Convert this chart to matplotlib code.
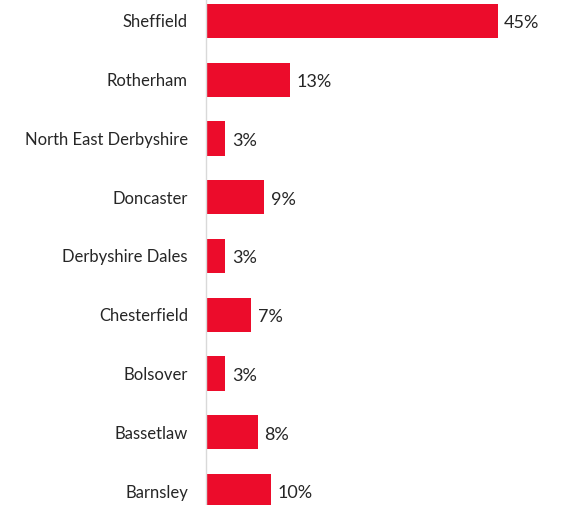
import matplotlib.pyplot as plt

areas = ['Sheffield', 'Rotherham', 'North East Derbyshire', 'Doncaster',
         'Derbyshire Dales', 'Chesterfield', 'Bolsover', 'Bassetlaw', 'Barnsley']
shares = [45, 13, 3, 9, 3, 7, 3, 8, 10]

plt.rcParams['font.family'] = ['Lato', 'DejaVu Sans']

fig = plt.figure(figsize=(5.62, 5.05), dpi=100)
ax = fig.add_axes([206 / 562, 0, 339 / 562, 1])

pos = list(range(len(areas)))
ax.barh(pos, shares, height=0.58, color='#EC0C2B')

for y, v in zip(pos, shares):
    ax.text(v + 1.0, y + 0.04, f'{v}%', va='center', ha='left', fontsize=13, color='#262626')

ax.set_xlim(0, 52.3)
ax.set_ylim(8.238, -0.357)
ax.set_yticks(pos)
ax.set_yticklabels(areas, fontsize=12, color='#262626')
ax.tick_params(axis='y', length=0, pad=13)
ax.set_xticks([])

for s in ['top', 'right', 'bottom']:
    ax.spines[s].set_visible(False)
ax.spines['left'].set_color('#D9D9D9')
ax.spines['left'].set_linewidth(1)

fig.savefig('out.png', dpi=100)
